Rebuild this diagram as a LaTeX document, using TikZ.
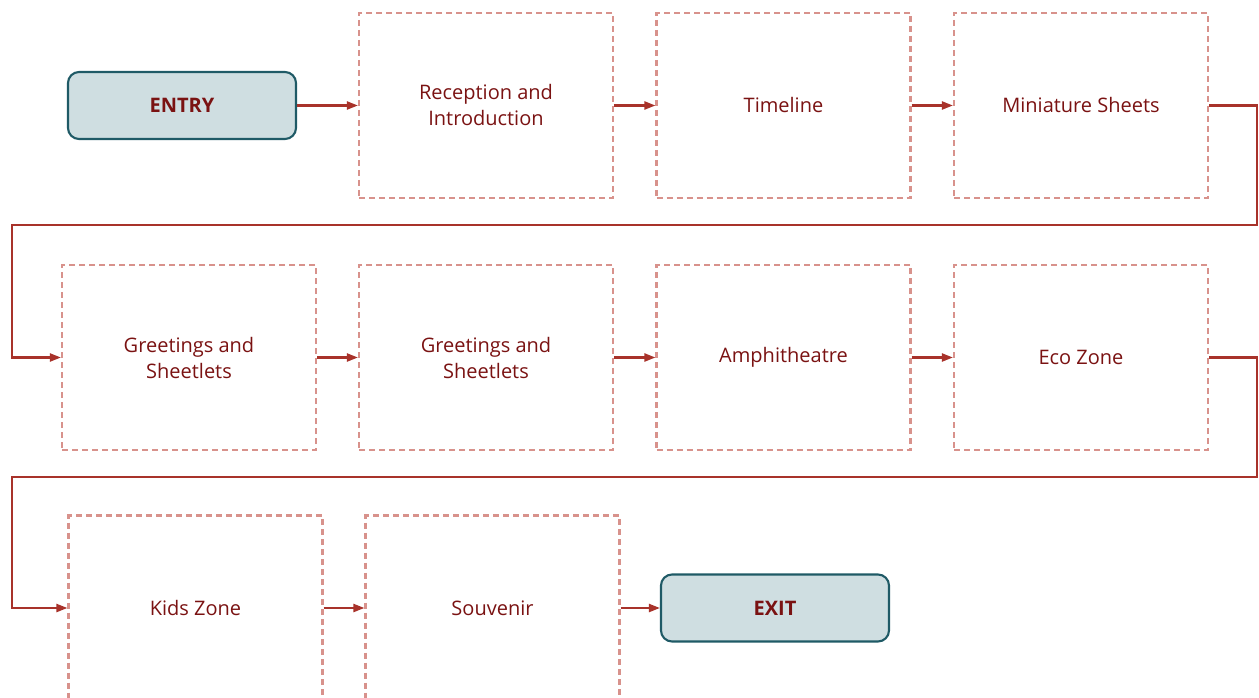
\documentclass[tikz,border=0pt]{standalone}
\usepackage{fontspec}
\setmainfont{Open Sans}
\usetikzlibrary{arrows.meta}
\definecolor{zoneline}{HTML}{D8928C}
\definecolor{flowline}{HTML}{A8322A}
\definecolor{labeltext}{HTML}{7A1212}
\definecolor{gatefill}{HTML}{CFDEE1}
\definecolor{gateline}{HTML}{1F5A66}
\begin{document}
\begin{tikzpicture}[x=1pt,y=-1pt,
  zone/.style={draw=zoneline, line width=2.1pt, dash pattern=on 6pt off 4pt,
    minimum width=254pt, minimum height=185pt, inner sep=0pt,
    align=center, text=labeltext, font=\fontsize{20}{26}\selectfont},
  gate/.style={draw=gateline, fill=gatefill, line width=2.1pt, rounded corners=11pt,
    minimum width=228pt, minimum height=67pt, inner sep=0pt,
    text=labeltext, font=\fontsize{20}{26}\selectfont\bfseries},
  flow/.style={draw=flowline, line width=2.1pt, -{Triangle[length=11pt,width=8pt]}}]
\useasboundingbox (0,0) rectangle (1259,698);
% first row
\node[gate] (entry) at (182,105.5) {ENTRY};
\node[zone] (reception) at (486,105.5) {Reception and\\Introduction};
\node[zone] (timeline) at (783.5,105.5) {Timeline};
\node[zone] (miniature) at (1081,105.5) {Miniature Sheets};
% second row
\node[zone] (greetA) at (189,357.5) {Greetings and\\Sheetlets};
\node[zone] (greetB) at (486,357.5) {Greetings and\\Sheetlets};
\node[zone] (amphi) at (783.5,357.5) {Amphitheatre};
\node[zone] (eco) at (1081,357.5) {Eco Zone};
% third row
\node[zone] (kids) at (195.5,608) {Kids Zone};
\node[zone] (souvenir) at (492.5,608) {Souvenir};
\node[gate] (exit) at (775,608) {EXIT};
% turn points between rows
\coordinate (turnA) at (1257,225);
\coordinate (turnB) at (12,225);
\coordinate (turnC) at (1257,477);
\coordinate (turnD) at (12,477);
% connectors
\draw[flow] (entry.east) -- (reception.west);
\draw[flow] (reception.east) -- (timeline.west);
\draw[flow] (timeline.east) -- (miniature.west);
\draw[flow] (miniature.east) -| (turnA) -- (turnB) |- (greetA.west);
\draw[flow] (greetA.east) -- (greetB.west);
\draw[flow] (greetB.east) -- (amphi.west);
\draw[flow] (amphi.east) -- (eco.west);
\draw[flow] (eco.east) -| (turnC) -- (turnD) |- (kids.west);
\draw[flow] (kids.east) -- (souvenir.west);
\draw[flow] (souvenir.east) -- (exit.west);
\end{tikzpicture}
\end{document}
